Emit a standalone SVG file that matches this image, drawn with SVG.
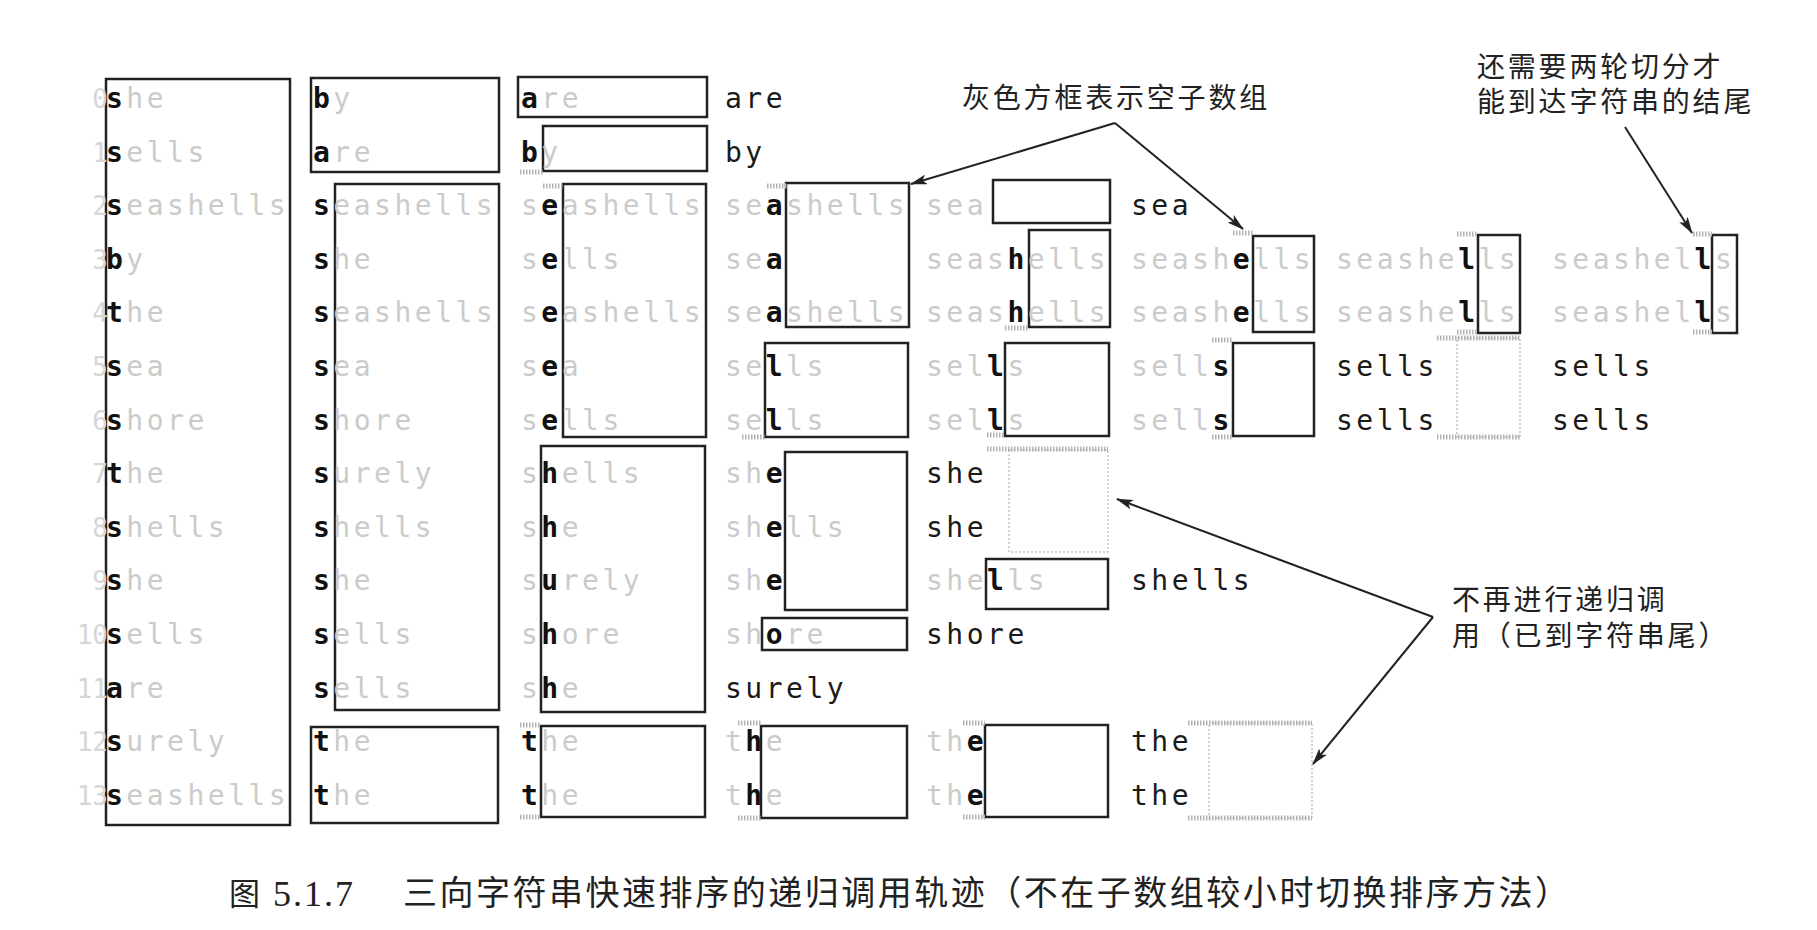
<svg xmlns="http://www.w3.org/2000/svg" width="1817" height="930" viewBox="0 0 1817 930">
<style>
.m{font-family:"DejaVu Sans Mono","Liberation Mono",monospace;font-size:28px;letter-spacing:3.5px}
.g{fill:#cbcbcb}
.b{fill:#111;font-weight:bold}
.f{fill:#1a1a1a}
.idx{font-family:"DejaVu Sans Mono","Liberation Mono",monospace;font-size:26px;fill:#d6d6d6;text-anchor:end}
.box{fill:none;stroke:#222;stroke-width:2.5}
.gbox{fill:none;stroke:#c4c4c4;stroke-width:1.5;stroke-dasharray:2 2}
.h{stroke:#b4b4b4;stroke-width:5;stroke-dasharray:1.5 1.5}
.lbl{font-family:"Noto Sans CJK SC",sans-serif;font-size:28px;letter-spacing:2.8px;fill:#222}
.arr{stroke:#222;stroke-width:2;fill:none;marker-end:url(#ah)}
</style>
<defs>
<marker id="ah" markerUnits="userSpaceOnUse" markerWidth="18" markerHeight="10" refX="16" refY="5" orient="auto">
<path d="M0,0 L17,5 L0,10 L4,5 z" fill="#222"/>
</marker>
</defs>
<rect width="1817" height="930" fill="#fff"/>

<g id="col0">
<rect class="box" x="106" y="79" width="184" height="746"/>
<text class="idx" x="108" y="108">0</text>
<text class="idx" x="108" y="161.6">1</text>
<text class="idx" x="108" y="215.2">2</text>
<text class="idx" x="108" y="268.8">3</text>
<text class="idx" x="108" y="322.4">4</text>
<text class="idx" x="108" y="376">5</text>
<text class="idx" x="108" y="429.6">6</text>
<text class="idx" x="108" y="483.2">7</text>
<text class="idx" x="108" y="536.8">8</text>
<text class="idx" x="108" y="590.4">9</text>
<text class="idx" x="108" y="644">10</text>
<text class="idx" x="108" y="697.6">11</text>
<text class="idx" x="108" y="751.2">12</text>
<text class="idx" x="108" y="804.8">13</text>
<text class="m" x="106" y="108"><tspan class="b">s</tspan><tspan class="g">he</tspan></text>
<text class="m" x="106" y="161.6"><tspan class="b">s</tspan><tspan class="g">ells</tspan></text>
<text class="m" x="106" y="215.2"><tspan class="b">s</tspan><tspan class="g">eashells</tspan></text>
<text class="m" x="106" y="268.8"><tspan class="b">b</tspan><tspan class="g">y</tspan></text>
<text class="m" x="106" y="322.4"><tspan class="b">t</tspan><tspan class="g">he</tspan></text>
<text class="m" x="106" y="376"><tspan class="b">s</tspan><tspan class="g">ea</tspan></text>
<text class="m" x="106" y="429.6"><tspan class="b">s</tspan><tspan class="g">hore</tspan></text>
<text class="m" x="106" y="483.2"><tspan class="b">t</tspan><tspan class="g">he</tspan></text>
<text class="m" x="106" y="536.8"><tspan class="b">s</tspan><tspan class="g">hells</tspan></text>
<text class="m" x="106" y="590.4"><tspan class="b">s</tspan><tspan class="g">he</tspan></text>
<text class="m" x="106" y="644"><tspan class="b">s</tspan><tspan class="g">ells</tspan></text>
<text class="m" x="106" y="697.6"><tspan class="b">a</tspan><tspan class="g">re</tspan></text>
<text class="m" x="106" y="751.2"><tspan class="b">s</tspan><tspan class="g">urely</tspan></text>
<text class="m" x="106" y="804.8"><tspan class="b">s</tspan><tspan class="g">eashells</tspan></text>
</g>

<g id="col1">
<rect class="box" x="311" y="78" width="188" height="94"/>
<rect class="box" x="335" y="184" width="164" height="526"/>
<rect class="box" x="311" y="727" width="187" height="96"/>
<text class="m" x="313" y="108"><tspan class="b">b</tspan><tspan class="g">y</tspan></text>
<text class="m" x="313" y="161.6"><tspan class="b">a</tspan><tspan class="g">re</tspan></text>
<text class="m" x="313" y="215.2"><tspan class="b">s</tspan><tspan class="g">eashells</tspan></text>
<text class="m" x="313" y="268.8"><tspan class="b">s</tspan><tspan class="g">he</tspan></text>
<text class="m" x="313" y="322.4"><tspan class="b">s</tspan><tspan class="g">eashells</tspan></text>
<text class="m" x="313" y="376"><tspan class="b">s</tspan><tspan class="g">ea</tspan></text>
<text class="m" x="313" y="429.6"><tspan class="b">s</tspan><tspan class="g">hore</tspan></text>
<text class="m" x="313" y="483.2"><tspan class="b">s</tspan><tspan class="g">urely</tspan></text>
<text class="m" x="313" y="536.8"><tspan class="b">s</tspan><tspan class="g">hells</tspan></text>
<text class="m" x="313" y="590.4"><tspan class="b">s</tspan><tspan class="g">he</tspan></text>
<text class="m" x="313" y="644"><tspan class="b">s</tspan><tspan class="g">ells</tspan></text>
<text class="m" x="313" y="697.6"><tspan class="b">s</tspan><tspan class="g">ells</tspan></text>
<text class="m" x="313" y="751.2"><tspan class="b">t</tspan><tspan class="g">he</tspan></text>
<text class="m" x="313" y="804.8"><tspan class="b">t</tspan><tspan class="g">he</tspan></text>
</g>

<g id="col2">
<rect class="box" x="518" y="77" width="189" height="40"/>
<rect class="box" x="543" y="126" width="164" height="45"/>
<rect class="box" x="563" y="184" width="143" height="253"/>
<rect class="box" x="541" y="446" width="164" height="266"/>
<rect class="box" x="541" y="726" width="164" height="91"/>
<text class="m" x="521" y="108"><tspan class="b">a</tspan><tspan class="g">re</tspan></text>
<text class="m" x="521" y="161.6"><tspan class="b">b</tspan><tspan class="g">y</tspan></text>
<text class="m" x="521" y="215.2"><tspan class="g">s</tspan><tspan class="b">e</tspan><tspan class="g">ashells</tspan></text>
<text class="m" x="521" y="268.8"><tspan class="g">s</tspan><tspan class="b">e</tspan><tspan class="g">lls</tspan></text>
<text class="m" x="521" y="322.4"><tspan class="g">s</tspan><tspan class="b">e</tspan><tspan class="g">ashells</tspan></text>
<text class="m" x="521" y="376"><tspan class="g">s</tspan><tspan class="b">e</tspan><tspan class="g">a</tspan></text>
<text class="m" x="521" y="429.6"><tspan class="g">s</tspan><tspan class="b">e</tspan><tspan class="g">lls</tspan></text>
<text class="m" x="521" y="483.2"><tspan class="g">s</tspan><tspan class="b">h</tspan><tspan class="g">ells</tspan></text>
<text class="m" x="521" y="536.8"><tspan class="g">s</tspan><tspan class="b">h</tspan><tspan class="g">e</tspan></text>
<text class="m" x="521" y="590.4"><tspan class="g">s</tspan><tspan class="b">u</tspan><tspan class="g">rely</tspan></text>
<text class="m" x="521" y="644"><tspan class="g">s</tspan><tspan class="b">h</tspan><tspan class="g">ore</tspan></text>
<text class="m" x="521" y="697.6"><tspan class="g">s</tspan><tspan class="b">h</tspan><tspan class="g">e</tspan></text>
<text class="m" x="521" y="751.2"><tspan class="b">t</tspan><tspan class="g">he</tspan></text>
<text class="m" x="521" y="804.8"><tspan class="b">t</tspan><tspan class="g">he</tspan></text>
</g>

<g id="col3">
<rect class="box" x="786" y="183" width="123" height="144"/>
<rect class="box" x="765" y="343" width="143" height="94"/>
<rect class="box" x="785" y="452" width="122" height="158"/>
<rect class="box" x="762" y="618" width="145" height="32"/>
<rect class="box" x="761" y="726" width="146" height="92"/>
<text class="m f" x="725" y="108">are</text>
<text class="m f" x="725" y="161.6">by</text>
<text class="m" x="725" y="215.2"><tspan class="g">se</tspan><tspan class="b">a</tspan><tspan class="g">shells</tspan></text>
<text class="m" x="725" y="268.8"><tspan class="g">se</tspan><tspan class="b">a</tspan></text>
<text class="m" x="725" y="322.4"><tspan class="g">se</tspan><tspan class="b">a</tspan><tspan class="g">shells</tspan></text>
<text class="m" x="725" y="376"><tspan class="g">se</tspan><tspan class="b">l</tspan><tspan class="g">ls</tspan></text>
<text class="m" x="725" y="429.6"><tspan class="g">se</tspan><tspan class="b">l</tspan><tspan class="g">ls</tspan></text>
<text class="m" x="725" y="483.2"><tspan class="g">sh</tspan><tspan class="b">e</tspan></text>
<text class="m" x="725" y="536.8"><tspan class="g">sh</tspan><tspan class="b">e</tspan><tspan class="g">lls</tspan></text>
<text class="m" x="725" y="590.4"><tspan class="g">sh</tspan><tspan class="b">e</tspan></text>
<text class="m" x="725" y="644"><tspan class="g">sh</tspan><tspan class="b">o</tspan><tspan class="g">re</tspan></text>
<text class="m f" x="725" y="697.6">surely</text>
<text class="m" x="725" y="751.2"><tspan class="g">t</tspan><tspan class="b">h</tspan><tspan class="g">e</tspan></text>
<text class="m" x="725" y="804.8"><tspan class="g">t</tspan><tspan class="b">h</tspan><tspan class="g">e</tspan></text>
</g>

<g id="col4">
<rect class="box" x="993" y="180" width="117" height="43"/>
<rect class="box" x="1029" y="230" width="81" height="97"/>
<rect class="box" x="1005" y="343" width="104" height="93"/>
<rect class="gbox" x="1009" y="450" width="99" height="102"/>
<rect class="box" x="986" y="559" width="122" height="50"/>
<rect class="box" x="985" y="725" width="123" height="92"/>
<text class="m g" x="926" y="215.2">sea</text>
<text class="m" x="926" y="268.8"><tspan class="g">seas</tspan><tspan class="b">h</tspan><tspan class="g">ells</tspan></text>
<text class="m" x="926" y="322.4"><tspan class="g">seas</tspan><tspan class="b">h</tspan><tspan class="g">ells</tspan></text>
<text class="m" x="926" y="376"><tspan class="g">sel</tspan><tspan class="b">l</tspan><tspan class="g">s</tspan></text>
<text class="m" x="926" y="429.6"><tspan class="g">sel</tspan><tspan class="b">l</tspan><tspan class="g">s</tspan></text>
<text class="m f" x="926" y="483.2">she</text>
<text class="m f" x="926" y="536.8">she</text>
<text class="m" x="926" y="590.4"><tspan class="g">she</tspan><tspan class="b">l</tspan><tspan class="g">ls</tspan></text>
<text class="m f" x="926" y="644">shore</text>
<text class="m" x="926" y="751.2"><tspan class="g">th</tspan><tspan class="b">e</tspan></text>
<text class="m" x="926" y="804.8"><tspan class="g">th</tspan><tspan class="b">e</tspan></text>
</g>

<g id="col5">
<rect class="box" x="1253" y="236" width="61" height="96"/>
<rect class="box" x="1233" y="343" width="81" height="93"/>
<rect class="gbox" x="1209" y="723" width="103" height="95"/>
<text class="m f" x="1131" y="215.2">sea</text>
<text class="m" x="1131" y="268.8"><tspan class="g">seash</tspan><tspan class="b">e</tspan><tspan class="g">lls</tspan></text>
<text class="m" x="1131" y="322.4"><tspan class="g">seash</tspan><tspan class="b">e</tspan><tspan class="g">lls</tspan></text>
<text class="m" x="1131" y="376"><tspan class="g">sell</tspan><tspan class="b">s</tspan></text>
<text class="m" x="1131" y="429.6"><tspan class="g">sell</tspan><tspan class="b">s</tspan></text>
<text class="m f" x="1131" y="590.4">shells</text>
<text class="m f" x="1131" y="751.2">the</text>
<text class="m f" x="1131" y="804.8">the</text>
</g>

<g id="col6">
<rect class="box" x="1478" y="235" width="42" height="98"/>
<rect class="gbox" x="1457" y="338" width="63" height="99"/>
<text class="m" x="1336" y="268.8"><tspan class="g">seashe</tspan><tspan class="b">l</tspan><tspan class="g">ls</tspan></text>
<text class="m" x="1336" y="322.4"><tspan class="g">seashe</tspan><tspan class="b">l</tspan><tspan class="g">ls</tspan></text>
<text class="m f" x="1336" y="376">sells</text>
<text class="m f" x="1336" y="429.6">sells</text>
</g>

<g id="col7">
<rect class="box" x="1712" y="235" width="25" height="98"/>
<text class="m" x="1552" y="268.8"><tspan class="g">seashel</tspan><tspan class="b">l</tspan><tspan class="g">s</tspan></text>
<text class="m" x="1552" y="322.4"><tspan class="g">seashel</tspan><tspan class="b">l</tspan><tspan class="g">s</tspan></text>
<text class="m f" x="1552" y="376">sells</text>
<text class="m f" x="1552" y="429.6">sells</text>
</g>

<g id="empty-marks">
<line class="h" x1="520" y1="172" x2="543" y2="172"/>
<line class="h" x1="543" y1="186" x2="563" y2="186"/>
<line class="h" x1="767" y1="186" x2="787" y2="186"/>
<line class="h" x1="742" y1="437" x2="765" y2="437"/>
<line class="h" x1="520" y1="725" x2="541" y2="725"/>
<line class="h" x1="520" y1="817" x2="541" y2="817"/>
<line class="h" x1="738" y1="723" x2="761" y2="723"/>
<line class="h" x1="738" y1="818" x2="761" y2="818"/>
<line class="h" x1="963" y1="723" x2="985" y2="723"/>
<line class="h" x1="963" y1="817" x2="985" y2="817"/>
<line class="h" x1="1233" y1="233" x2="1253" y2="233"/>
<line class="h" x1="1005" y1="328" x2="1029" y2="328"/>
<line class="h" x1="1212" y1="340" x2="1233" y2="340"/>
<line class="h" x1="1212" y1="437" x2="1233" y2="437"/>
<line class="h" x1="987" y1="435" x2="1005" y2="435"/>
<line class="h" x1="987" y1="449" x2="1108" y2="449"/>
<line class="h" x1="1457" y1="234" x2="1478" y2="234"/>
<line class="h" x1="1457" y1="332" x2="1478" y2="332"/>
<line class="h" x1="1437" y1="338" x2="1520" y2="338"/>
<line class="h" x1="1437" y1="437" x2="1520" y2="437"/>
<line class="h" x1="1693" y1="234" x2="1712" y2="234"/>
<line class="h" x1="1693" y1="332" x2="1712" y2="332"/>
<line class="h" x1="1188" y1="723" x2="1312" y2="723"/>
<line class="h" x1="1188" y1="818" x2="1312" y2="818"/>
</g>

<g id="label-empty">
<text class="lbl" x="962" y="108">灰色方框表示空子数组</text>
</g>
<g id="label-two-more">
<text class="lbl" x="1477" y="77">还需要两轮切分才</text>
<text class="lbl" x="1477" y="112">能到达字符串的结尾</text>
</g>
<g id="label-no-recursion">
<text class="lbl" x="1452" y="610">不再进行递归调</text>
<text class="lbl" x="1452" y="646">用（已到字符串尾）</text>
</g>

<g id="connectors">
<line class="arr" x1="1115" y1="123" x2="911" y2="184"/>
<line class="arr" x1="1115" y1="123" x2="1243" y2="229"/>
<line class="arr" x1="1625" y1="127" x2="1692" y2="233"/>
<line class="arr" x1="1433" y1="617" x2="1117" y2="499"/>
<line class="arr" x1="1433" y1="617" x2="1313" y2="764"/>
</g>

<g id="caption">
<text x="229" y="905" style="font-family:'Noto Sans CJK SC',sans-serif;font-size:31px;fill:#222">图</text>
<text x="273" y="906" style="font-family:'Liberation Serif',serif;font-size:36px;letter-spacing:2px;fill:#222">5.1.7</text>
<text x="403" y="905" textLength="1166" lengthAdjust="spacing" style="font-family:'Noto Sans CJK SC',sans-serif;font-size:34px;fill:#222">三向字符串快速排序的递归调用轨迹（不在子数组较小时切换排序方法）</text>
</g>
</svg>
